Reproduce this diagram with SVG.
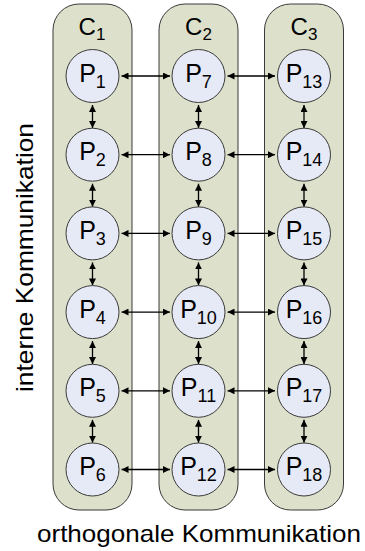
<svg xmlns="http://www.w3.org/2000/svg" width="365" height="551" viewBox="0 0 365 551">
  <defs>
    <marker id="ah" viewBox="0 0 10 10" refX="10" refY="5" markerWidth="7" markerHeight="7" markerUnits="userSpaceOnUse" orient="auto-start-reverse">
      <path d="M0,0 L10,5 L0,10 z" fill="#000"/>
    </marker>
  </defs>
  <style>
    .col { fill: #dde0ca; stroke: #3a3a3a; stroke-width: 1; }
    .proc { fill: #e6eaf6; stroke: #3a3a3a; stroke-width: 1; }
    .lbl { font-family: "Liberation Sans", Arial, sans-serif; fill: #000; }
    .p { font-size: 25px; text-anchor: middle; }
    .c { font-size: 24px; text-anchor: middle; }
    .sub { font-size: 18px; }
    .csub { font-size: 17px; }
    .axis { font-size: 24px; text-anchor: middle; }
    .link { stroke: #000; stroke-width: 1.3; fill: none; marker-start: url(#ah); marker-end: url(#ah); }
  </style>

  <rect width="365" height="551" fill="#fff"/>

  <!-- clusters -->
  <g id="C1"><rect class="col" x="53" y="4" width="79" height="506" rx="26"/>
    <text class="lbl c" x="92" y="35">C<tspan class="csub" dy="5">1</tspan></text></g>
  <g id="C2"><rect class="col" x="159" y="4" width="79" height="506" rx="26"/>
    <text class="lbl c" x="198.5" y="35">C<tspan class="csub" dy="5">2</tspan></text></g>
  <g id="C3"><rect class="col" x="264.5" y="4" width="79" height="506" rx="26"/>
    <text class="lbl c" x="304" y="35">C<tspan class="csub" dy="5">3</tspan></text></g>

  <!-- connectors -->
  <g id="connectors">
    <!-- vertical links, column 1 -->
    <path class="link" d="M92.5,105 V128"/>
    <path class="link" d="M92.5,183.7 V206.7"/>
    <path class="link" d="M92.5,262.4 V285.4"/>
    <path class="link" d="M92.5,341.1 V364.1"/>
    <path class="link" d="M92.5,419.8 V442.8"/>
    <!-- vertical links, column 2 -->
    <path class="link" d="M198.5,105 V128"/>
    <path class="link" d="M198.5,183.7 V206.7"/>
    <path class="link" d="M198.5,262.4 V285.4"/>
    <path class="link" d="M198.5,341.1 V364.1"/>
    <path class="link" d="M198.5,419.8 V442.8"/>
    <!-- vertical links, column 3 -->
    <path class="link" d="M304,105 V128"/>
    <path class="link" d="M304,183.7 V206.7"/>
    <path class="link" d="M304,262.4 V285.4"/>
    <path class="link" d="M304,341.1 V364.1"/>
    <path class="link" d="M304,419.8 V442.8"/>
    <!-- horizontal links -->
    <path class="link" d="M121.5,76 H170"/>
    <path class="link" d="M227.5,76 H275"/>
    <path class="link" d="M121.5,154.7 H170"/>
    <path class="link" d="M227.5,154.7 H275"/>
    <path class="link" d="M121.5,233.4 H170"/>
    <path class="link" d="M227.5,233.4 H275"/>
    <path class="link" d="M121.5,312.1 H170"/>
    <path class="link" d="M227.5,312.1 H275"/>
    <path class="link" d="M121.5,390.8 H170"/>
    <path class="link" d="M227.5,390.8 H275"/>
    <path class="link" d="M121.5,469.5 H170"/>
    <path class="link" d="M227.5,469.5 H275"/>
  </g>

  <!-- processes -->
  <g id="P1"><circle class="proc" cx="92.5" cy="76" r="26.5"/><text class="lbl p" x="92.5" y="81.5">P<tspan class="sub" dy="6">1</tspan></text></g>
  <g id="P2"><circle class="proc" cx="92.5" cy="154.7" r="26.5"/><text class="lbl p" x="92.5" y="160.2">P<tspan class="sub" dy="6">2</tspan></text></g>
  <g id="P3"><circle class="proc" cx="92.5" cy="233.4" r="26.5"/><text class="lbl p" x="92.5" y="238.9">P<tspan class="sub" dy="6">3</tspan></text></g>
  <g id="P4"><circle class="proc" cx="92.5" cy="312.1" r="26.5"/><text class="lbl p" x="92.5" y="317.6">P<tspan class="sub" dy="6">4</tspan></text></g>
  <g id="P5"><circle class="proc" cx="92.5" cy="390.8" r="26.5"/><text class="lbl p" x="92.5" y="396.3">P<tspan class="sub" dy="6">5</tspan></text></g>
  <g id="P6"><circle class="proc" cx="92.5" cy="469.5" r="26.5"/><text class="lbl p" x="92.5" y="475">P<tspan class="sub" dy="6">6</tspan></text></g>

  <g id="P7"><circle class="proc" cx="198.5" cy="76" r="26.5"/><text class="lbl p" x="198.5" y="81.5">P<tspan class="sub" dy="6">7</tspan></text></g>
  <g id="P8"><circle class="proc" cx="198.5" cy="154.7" r="26.5"/><text class="lbl p" x="198.5" y="160.2">P<tspan class="sub" dy="6">8</tspan></text></g>
  <g id="P9"><circle class="proc" cx="198.5" cy="233.4" r="26.5"/><text class="lbl p" x="198.5" y="238.9">P<tspan class="sub" dy="6">9</tspan></text></g>
  <g id="P10"><circle class="proc" cx="198.5" cy="312.1" r="26.5"/><text class="lbl p" x="198.5" y="317.6">P<tspan class="sub" dy="6">10</tspan></text></g>
  <g id="P11"><circle class="proc" cx="198.5" cy="390.8" r="26.5"/><text class="lbl p" x="198.5" y="396.3">P<tspan class="sub" dy="6">11</tspan></text></g>
  <g id="P12"><circle class="proc" cx="198.5" cy="469.5" r="26.5"/><text class="lbl p" x="198.5" y="475">P<tspan class="sub" dy="6">12</tspan></text></g>

  <g id="P13"><circle class="proc" cx="304" cy="76" r="26.5"/><text class="lbl p" x="304" y="81.5">P<tspan class="sub" dy="6">13</tspan></text></g>
  <g id="P14"><circle class="proc" cx="304" cy="154.7" r="26.5"/><text class="lbl p" x="304" y="160.2">P<tspan class="sub" dy="6">14</tspan></text></g>
  <g id="P15"><circle class="proc" cx="304" cy="233.4" r="26.5"/><text class="lbl p" x="304" y="238.9">P<tspan class="sub" dy="6">15</tspan></text></g>
  <g id="P16"><circle class="proc" cx="304" cy="312.1" r="26.5"/><text class="lbl p" x="304" y="317.6">P<tspan class="sub" dy="6">16</tspan></text></g>
  <g id="P17"><circle class="proc" cx="304" cy="390.8" r="26.5"/><text class="lbl p" x="304" y="396.3">P<tspan class="sub" dy="6">17</tspan></text></g>
  <g id="P18"><circle class="proc" cx="304" cy="469.5" r="26.5"/><text class="lbl p" x="304" y="475">P<tspan class="sub" dy="6">18</tspan></text></g>

  <!-- axis captions -->
  <text class="lbl axis" x="199" y="542" textLength="324" lengthAdjust="spacingAndGlyphs">orthogonale Kommunikation</text>
  <text class="lbl axis" transform="translate(33,257.5) rotate(-90)" x="0" y="0" textLength="269" lengthAdjust="spacingAndGlyphs">interne Kommunikation</text>
</svg>
